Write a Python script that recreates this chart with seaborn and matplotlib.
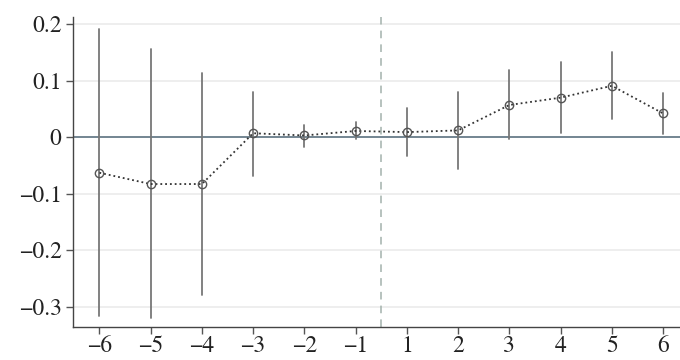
import numpy as np
import pandas as pd
import matplotlib
matplotlib.use("Agg")
import matplotlib.pyplot as plt
import seaborn as sns

periods = ["-6", "-5", "-4", "-3", "-2", "-1", "1", "2", "3", "4", "5", "6"]
estimate = [-0.063, -0.083, -0.083, 0.007, 0.003, 0.011, 0.009, 0.012, 0.057, 0.070, 0.091, 0.042]
ci_low = [-0.317, -0.321, -0.280, -0.068, -0.017, -0.004, -0.033, -0.057, -0.004, 0.008, 0.033, 0.006]
ci_high = [0.191, 0.156, 0.114, 0.080, 0.021, 0.026, 0.051, 0.080, 0.119, 0.134, 0.150, 0.078]
yticks = [-0.3, -0.2, -0.1, 0, 0.1, 0.2]
ytick_labels = ["\u22120.3", "\u22120.2", "\u22120.1", "0", "0.1", "0.2"]
xtick_labels = ["\u22126", "\u22125", "\u22124", "\u22123", "\u22122", "\u22121", "1", "2", "3", "4", "5", "6"]

# long table: median of (low, est, high) = est; 100% interval = low..high
rows = []
for p, lo, e, hi in zip(periods, ci_low, estimate, ci_high):
    for v in (lo, e, hi):
        rows.append({"period": p, "value": v})
df = pd.DataFrame(rows)

sns.set_theme(style="white")
plt.rcParams["font.family"] = ["TeX Gyre Termes", "Liberation Serif", "STIXGeneral", "DejaVu Serif"]

fig = plt.figure(figsize=(6.8, 3.6), dpi=100)
ax = fig.add_axes([0.107, 0.092, 0.893, 0.861])

for y in yticks:
    ax.axhline(y, color="#ebebeb", lw=1.2, zorder=0)
ax.axhline(0, color="#5f7482", lw=1.2, zorder=1)

sns.pointplot(data=df, x="period", y="value", order=periods,
              estimator="median", errorbar=("pi", 100),
              color="#333333", linestyles=":", markers="o",
              markersize=6, markerfacecolor="none", markeredgecolor="#555555",
              markeredgewidth=1.0, linewidth=1.3,
              err_kws={"color": "#777777", "linewidth": 1.3, "zorder": 1.5},
              ax=ax)

ax.axvline(5.5, color="#a3b2ac", lw=1.1, ls=(0, (5, 4)), zorder=1)

ax.set_xlim(-0.52, 11.33)
ax.set_ylim(-0.336, 0.213)
ax.set_yticks(yticks)
ax.set_yticklabels(ytick_labels)
ax.set_xticks(range(len(periods)))
ax.set_xticklabels(xtick_labels)
ax.set_xlabel("")
ax.set_ylabel("")

for s in ["top", "right"]:
    ax.spines[s].set_visible(False)
for s in ["left", "bottom"]:
    ax.spines[s].set_color("#444444")
    ax.spines[s].set_linewidth(1.0)
ax.tick_params(axis="both", which="both", direction="out", length=5, width=1.0,
               color="#555555", labelsize=17, labelcolor="#222222", pad=3,
               bottom=True, left=True)
ax.tick_params(axis="x", pad=1.5)

fig.savefig("out.png", dpi=100)
